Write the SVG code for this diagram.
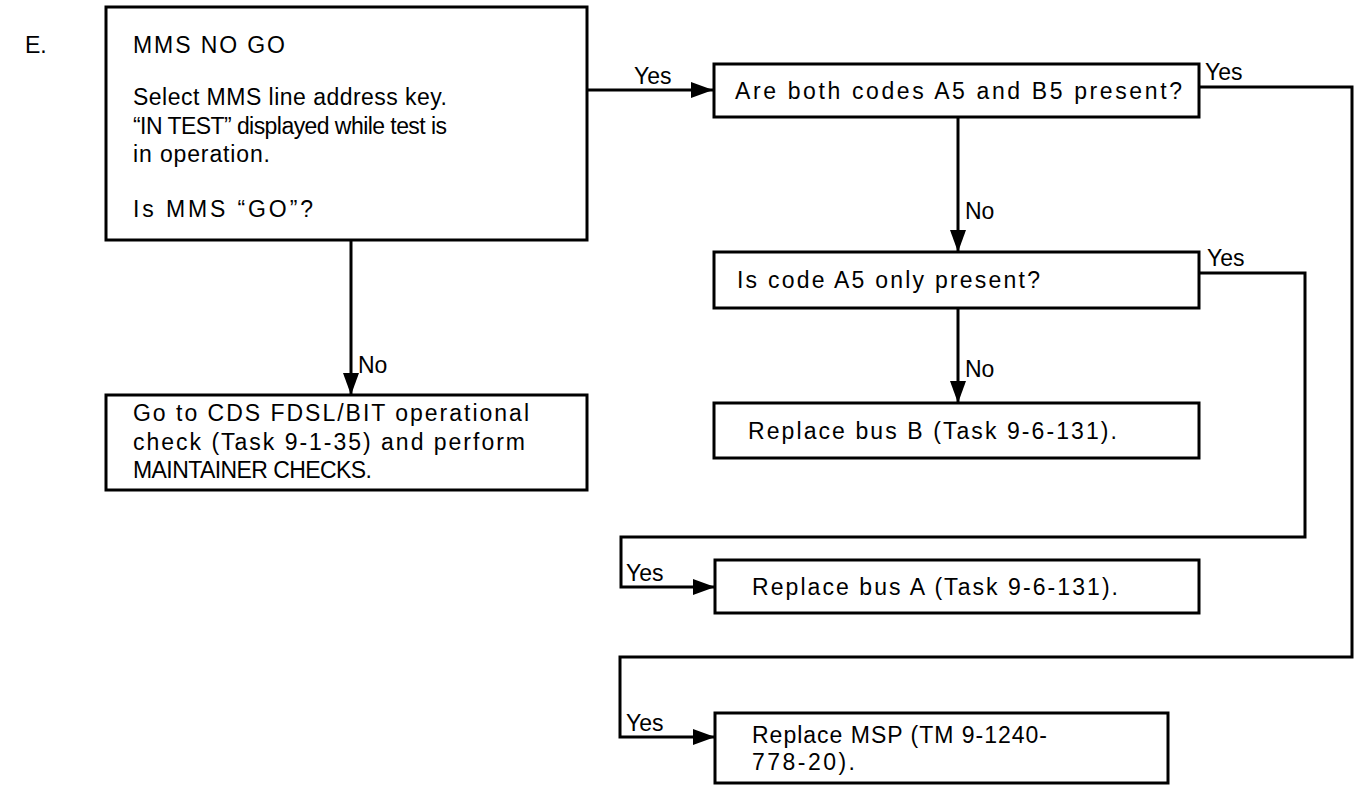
<svg xmlns="http://www.w3.org/2000/svg" width="1355" height="792" viewBox="0 0 1355 792">
<defs>
<style>
.box{fill:#fff;stroke:#000;stroke-width:3}
.t{font-family:"Liberation Sans",Arial,sans-serif;font-size:23px;fill:#000}
.c{fill:none;stroke:#000;stroke-width:3}
</style>
<marker id="ah" markerUnits="userSpaceOnUse" markerWidth="24" markerHeight="18" refX="22" refY="9" orient="auto">
<path d="M0,1 L22,9 L0,17 Z" fill="#000"/>
</marker>
</defs>
<rect width="1355" height="792" fill="#fff"/>
<text class="t" x="25" y="53">E.</text>

<g id="connectors">
<path class="c" d="M587,90 H713" marker-end="url(#ah)"/>
<path class="c" d="M351,240 V395" marker-end="url(#ah)"/>
<path class="c" d="M958,117 V252" marker-end="url(#ah)"/>
<path class="c" d="M958,308 V403" marker-end="url(#ah)"/>
<path class="c" d="M1199,87 H1352 V657 H620 V737 H715" marker-end="url(#ah)"/>
<path class="c" d="M1199,273 H1305 V537 H621 V587 H715" marker-end="url(#ah)"/>
<text class="t" x="634" y="84">Yes</text>
<text class="t" x="358" y="373">No</text>
<text class="t" x="965" y="219">No</text>
<text class="t" x="965" y="377">No</text>
<text class="t" x="1205" y="80">Yes</text>
<text class="t" x="1207" y="266">Yes</text>
<text class="t" x="626" y="581">Yes</text>
<text class="t" x="626" y="731">Yes</text>
</g>

<g id="n1">
<rect class="box" x="106" y="7" width="481" height="233"/>
<text class="t" x="133" y="53" textLength="152" lengthAdjust="spacing">MMS NO GO</text>
<text class="t" x="133" y="105" textLength="314" lengthAdjust="spacing">Select MMS line address key.</text>
<text class="t" x="133" y="134" textLength="314" lengthAdjust="spacing">“IN TEST” displayed while test is</text>
<text class="t" x="133" y="162" textLength="137" lengthAdjust="spacing">in operation.</text>
<text class="t" x="133" y="217" textLength="180" lengthAdjust="spacing">Is MMS “GO”?</text>
</g>

<g id="n2">
<rect class="box" x="106" y="395" width="481" height="95"/>
<text class="t" x="133" y="421" textLength="396" lengthAdjust="spacing">Go to CDS FDSL/BIT operational</text>
<text class="t" x="133" y="450" textLength="392" lengthAdjust="spacing">check (Task 9-1-35) and perform</text>
<text class="t" x="133" y="478" textLength="239" lengthAdjust="spacing">MAINTAINER CHECKS.</text>
</g>

<g id="n3">
<rect class="box" x="714" y="64" width="485" height="53"/>
<text class="t" x="735" y="99" textLength="447" lengthAdjust="spacing">Are both codes A5 and B5 present?</text>
</g>

<g id="n4">
<rect class="box" x="714" y="252" width="485" height="56"/>
<text class="t" x="737" y="288" textLength="303" lengthAdjust="spacing">Is code A5 only present?</text>
</g>

<g id="n5">
<rect class="box" x="714" y="403" width="485" height="55"/>
<text class="t" x="748" y="439" textLength="369" lengthAdjust="spacing">Replace bus B (Task 9-6-131).</text>
</g>

<g id="n6">
<rect class="box" x="715" y="560" width="484" height="53"/>
<text class="t" x="752" y="595" textLength="366" lengthAdjust="spacing">Replace bus A (Task 9-6-131).</text>
</g>

<g id="n7">
<rect class="box" x="715" y="713" width="453" height="70"/>
<text class="t" x="752" y="743" textLength="295" lengthAdjust="spacing">Replace MSP (TM 9-1240-</text>
<text class="t" x="752" y="770" textLength="103" lengthAdjust="spacing">778-20).</text>
</g>
</svg>
